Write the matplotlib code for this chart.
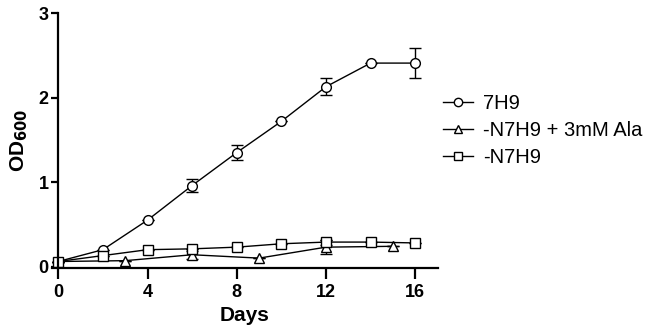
import matplotlib
matplotlib.use("Agg")
import matplotlib.pyplot as plt
from matplotlib.lines import Line2D

plt.rcParams['font.family'] = ['Liberation Sans', 'DejaVu Sans']

# 7H9 (circles)
days_7h9 = [0, 2, 4, 6, 8, 10, 12, 14, 16]
od_7h9 = [0.06, 0.20, 0.55, 0.96, 1.35, 1.72, 2.13, 2.41, 2.41]
err_7h9 = [0.0, 0.0, 0.0, 0.08, 0.09, 0.0, 0.10, 0.0, 0.18]

# -N7H9 + 3mM Ala (triangles)
days_ala = [0, 3, 6, 9, 12, 15]
od_ala = [0.06, 0.07, 0.14, 0.10, 0.23, 0.24]
err_ala = [0.0, 0.0, 0.05, 0.0, 0.08, 0.0]

# -N7H9 (squares)
days_n = [0, 2, 4, 6, 8, 10, 12, 14, 16]
od_n = [0.06, 0.13, 0.20, 0.21, 0.23, 0.27, 0.29, 0.29, 0.28]
err_n = [0.0, 0.0, 0.0, 0.0, 0.0, 0.0, 0.03, 0.0, 0.0]

labels = ['7H9', '-N7H9 + 3mM Ala', '-N7H9']
markers = ['o', '^', 's']
xticks = [0, 4, 8, 12, 16]
yticks = [0, 1, 2, 3]

fig = plt.figure(figsize=(6.53, 3.32), dpi=100)
ax = fig.add_axes([0.079, 0.192, 0.591, 0.768])

style = dict(color='black', mfc='white', mec='black', ms=7, mew=1.0, lw=1.0,
             capsize=4, elinewidth=1.0, capthick=1.0)
ax.errorbar(days_7h9, od_7h9, yerr=err_7h9, marker=markers[0], **style)
ax.errorbar(days_ala, od_ala, yerr=err_ala, marker=markers[1], **style)
ax.errorbar(days_n, od_n, yerr=err_n, marker=markers[2], **style)

ax.set_xlim(-0.3, 17)
ax.set_ylim(-0.02, 3)
ax.set_xticks(xticks)
ax.set_yticks(yticks)
ax.spines['top'].set_visible(False)
ax.spines['right'].set_visible(False)
ax.spines['left'].set_position(('data', 0))
ax.spines['left'].set_bounds(0, 3)
ax.spines['left'].set_linewidth(1.6)
ax.spines['bottom'].set_linewidth(1.6)
ax.tick_params(axis='x', direction='out', length=8, width=1.6, labelsize=13, pad=3)
ax.tick_params(axis='y', direction='out', length=5, width=1.6, labelsize=13, pad=2)
for t in ax.get_xticklabels() + ax.get_yticklabels():
    t.set_fontweight('bold')

ax.set_xlabel('Days', fontsize=15, fontweight='bold', labelpad=4)
ax.set_ylabel(r'OD$_{\mathbf{600}}$', fontsize=15, fontweight='bold', labelpad=6)

handles = [Line2D([], [], color='black', lw=1.0, marker=m, ms=6, mfc='white',
                  mec='black', mew=1.0) for m in markers]
fig.legend(handles, labels, loc='upper left', bbox_to_anchor=(443 / 653, 1 - 94 / 332),
           frameon=False, fontsize=14.5, handlelength=1.5, handletextpad=0.5,
           labelspacing=0.4, borderpad=0, borderaxespad=0)

fig.savefig('out.png', dpi=100)
